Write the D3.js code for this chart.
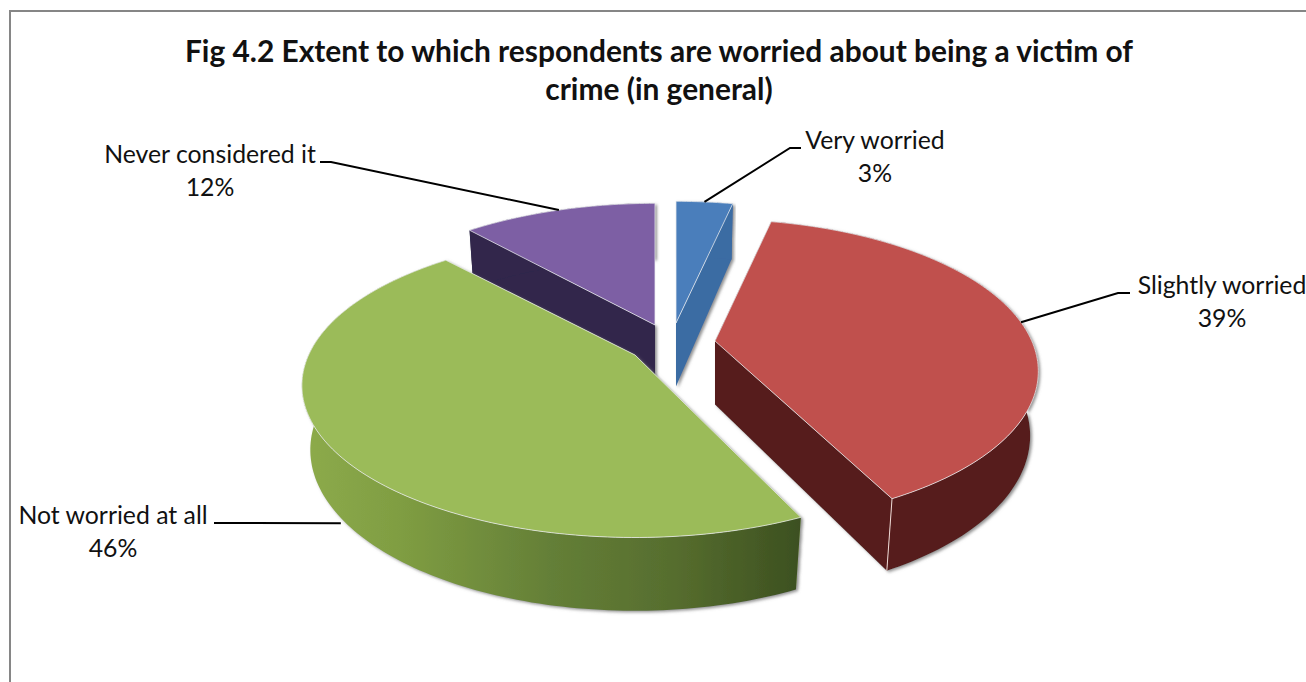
<!DOCTYPE html>
<html><head><meta charset="utf-8">
<script src="https://cdn.jsdelivr.net/npm/d3@7"></script>
<style>html,body{margin:0;padding:0;background:#fff;overflow:hidden}svg{display:block}text{font-family:Lato,"Open Sans",sans-serif;fill:#111}</style>
</head><body><svg id="c" width="1306" height="682"></svg>
<script>
const titleLines = ["Fig 4.2 Extent to which respondents are worried about being a victim of", "crime (in general)"];
const categories = ["Very worried", "Slightly worried", "Not worried at all", "Never considered it"];
const values = [3.4, 39, 46, 11.6];
const percentLabels = ["3%", "39%", "46%", "12%"];

// styling and layout
const topColors = ["#4a7ebb", "#c0504d", "#9bbb59", "#7d5fa4"];
const sideColors = ["#3b6ca3", "#561e1b", "url(#greenWall)", "#30264c"];
const apexX = [676, 715, 635, 655];
const apexY = [323, 341, 355, 325];
const widthScale = [1, 0.99, 1.02, 1];
const startNudgeDeg = [0, 0, 2.8, 0];
const drawOrder = [3, 0, 1, 2];
const leaderDepth = [0, 0, 1.09, 0];
const labelX = [875, 1222, 113, 210];
const labelY = [148, 293, 523, 162];
const labelLeaderX = [801, 1130, 214, 320];
const labelLeaderStub = [-11, -12, 20, 11];
const R = 320, Ry = 146, D = 65, pv = 0.2, pz = 0.025;

const svg = d3.select("#c");
const defs = svg.append("defs");
const gw = defs.append("linearGradient").attr("id", "greenWall");
[[0, "#8dab4b"], [0.2, "#7f9d42"], [0.5, "#647f37"], [0.75, "#566d2e"], [1, "#3c5020"]]
  .forEach(([o, c]) => gw.append("stop").attr("offset", o).attr("stop-color", c));
const f = defs.append("filter").attr("id", "sh").attr("x", "-5%").attr("y", "-5%").attr("width", "110%").attr("height", "110%");
f.append("feDropShadow").attr("dx", 2).attr("dy", 1.5).attr("stdDeviation", 1.5).attr("flood-color", "#777").attr("flood-opacity", 0.8);

svg.append("rect").attr("x", 10).attr("y", 11).attr("width", 1400).attr("height", 800)
  .attr("fill", "#fff").attr("stroke", "#868686").attr("stroke-width", 2);

svg.selectAll("text.title").data(titleLines).join("text").attr("class", "title")
  .attr("x", 659).attr("y", (d, i) => 62 + i * 38)
  .attr("text-anchor", "middle").attr("font-size", 29.9).attr("font-weight", 700).text(d => d);

const arcs = d3.pie().sort(null).value(d => d)(values);
function project(i, a, z, r = 1) {
  const u = Math.sin(a) * r, v = -Math.cos(a) * r;
  const s = 1 / (1 - pv * v + pz * z);
  return [apexX[i] + R * widthScale[i] * u * s, apexY[i] + Ry * v * s + D * z * s];
}
const line = d3.line();
const closed = pts => line(pts) + "Z";
function angles(a0, a1) {
  const n = Math.max(2, Math.ceil((a1 - a0) / 0.02));
  return d3.range(n + 1).map(k => a0 + (a1 - a0) * k / n);
}
const rad = Math.PI / 180;

drawOrder.forEach(i => {
  const a0 = arcs[i].startAngle + startNudgeDeg[i] * rad, a1 = arcs[i].endAngle;
  const g = svg.append("g");
  const sides = g.append("g").attr("filter", "url(#sh)");
  const as = angles(a0, a1);
  const topArc = as.map(a => project(i, a, 0));
  const botArc = as.map(a => project(i, a, 1));
  const apex0 = project(i, 0, 0, 0), apex1 = project(i, 0, 1, 0);
  [a0, a1].forEach(a => {
    sides.append("path").attr("d", closed([apex0, project(i, a, 0), project(i, a, 1), apex1]))
      .attr("fill", i === 2 ? topColors[2] : sideColors[i]);
  });
  sides.append("path").attr("d", closed(topArc.concat(botArc.slice().reverse())))
    .attr("fill", sideColors[i]);
  g.append("path").attr("d", closed([apex0].concat(topArc)))
    .attr("fill", topColors[i]).attr("stroke", "#eceef0").attr("stroke-opacity", 0.75).attr("stroke-width", 1).attr("stroke-linejoin", "round");
  if (i === 1) {
    g.append("path").attr("d", line([project(i, a1, 0), project(i, a1, 1)]))
      .attr("stroke", "#f0d8d4").attr("stroke-width", 1);
  }
});

categories.forEach((c, i) => {
  const mid = (arcs[i].startAngle + arcs[i].endAngle) / 2;
  const p = project(i, mid, leaderDepth[i]);
  const x0 = labelLeaderX[i], y0 = labelY[i];
  svg.append("path").attr("d", line([[x0, y0], [x0 + labelLeaderStub[i], y0], p]))
    .attr("fill", "none").attr("stroke", "#000").attr("stroke-width", 2);
  svg.append("text").attr("x", labelX[i]).attr("y", labelY[i] + 1).attr("text-anchor", "middle").attr("font-size", 24.8).text(c);
  svg.append("text").attr("x", labelX[i]).attr("y", labelY[i] + 34).attr("text-anchor", "middle").attr("font-size", 24.8).text(percentLabels[i]);
});
</script></body></html>
